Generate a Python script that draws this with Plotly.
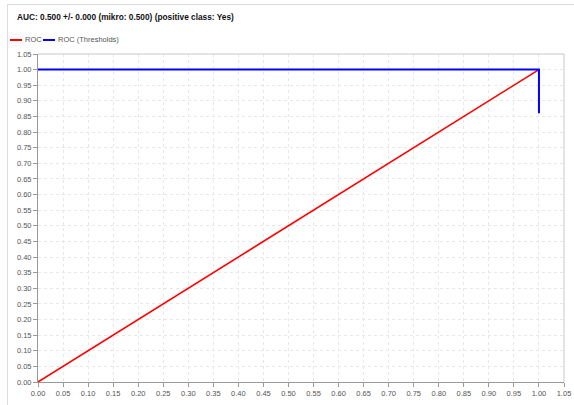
import plotly.graph_objects as go

# Data
roc_fpr = [0.0, 1.0]
roc_tpr = [0.0, 1.0]
thr_fpr = [0.0, 1.0, 1.0]
thr_tpr = [1.0, 1.0, 0.86]
title_text = "AUC: 0.500 +/- 0.000 (mikro: 0.500) (positive class: Yes)"
series_names = ["ROC", "ROC (Thresholds)"]
series_colors = ["#ff0000", "#0000ff"]

W, H = 574, 405
L, R, T, B = 38, 10, 54, 23
pw, ph = W - L - R, H - T - B

def px(x):
    return (x - L) / pw

def py(y):
    return (H - B - y) / ph

fig = go.Figure()
fig.add_trace(go.Scatter(x=roc_fpr, y=roc_tpr, mode="lines", name=series_names[0],
                         line=dict(color=series_colors[0], width=1.6), showlegend=False))
fig.add_trace(go.Scatter(x=thr_fpr, y=thr_tpr, mode="lines", name=series_names[1],
                         line=dict(color=series_colors[1], width=2), showlegend=False))

tickvals = [round(i * 0.05, 2) for i in range(22)]
ticktext = [f"{v:.2f}" for v in tickvals]

axis_common = dict(
    range=[0, 1.05], tickvals=tickvals, ticktext=ticktext,
    showgrid=True, gridcolor="#e8e8e8", griddash="dot", gridwidth=1,
    showline=True, linecolor="#999999", linewidth=1,
    ticks="outside", ticklen=4, tickcolor="#999999",
    tickfont=dict(family="Liberation Sans, Arial", size=7.5, color="#555555"),
    zeroline=False, fixedrange=True, automargin=False,
)

fig.update_layout(
    width=W, height=H,
    margin=dict(l=L, r=R, t=T, b=B, pad=0),
    paper_bgcolor="white", plot_bgcolor="white",
    xaxis=dict(**axis_common),
    yaxis=dict(**axis_common),
    showlegend=False,
)

shapes = []
# outer panel border
shapes.append(dict(type="line", xref="paper", yref="paper", x0=px(7), y0=py(4.5), x1=px(574), y1=py(4.5),
                   line=dict(color="#dddddd", width=1)))
shapes.append(dict(type="line", xref="paper", yref="paper", x0=px(7.5), y0=py(4.5), x1=px(7.5), y1=py(405),
                   line=dict(color="#dddddd", width=1)))
# top/right frame of plot area
shapes.append(dict(type="line", xref="paper", yref="paper", x0=0, y0=1, x1=1, y1=1,
                   line=dict(color="#c8c8c8", width=1)))
shapes.append(dict(type="line", xref="paper", yref="paper", x0=1, y0=0, x1=1, y1=1,
                   line=dict(color="#c8c8c8", width=1)))
# legend samples
leg_items = [(10, 22, 23), (43, 55, 56)]
annotations = [dict(text=f"<b>{title_text}</b>", xref="paper", yref="paper", x=px(15), y=py(17),
                    xanchor="left", yanchor="middle", showarrow=False,
                    font=dict(family="Liberation Sans, Arial", size=8.3, color="#111111"))]
for (x0, x1, tx), name, col in zip(leg_items, series_names, series_colors):
    shapes.append(dict(type="line", xref="paper", yref="paper", x0=px(x0), y0=py(40), x1=px(x1), y1=py(40),
                       line=dict(color=col, width=2)))
    annotations.append(dict(text=name, xref="paper", yref="paper", x=px(tx), y=py(40),
                            xanchor="left", yanchor="middle", showarrow=False,
                            font=dict(family="Liberation Sans, Arial", size=7.5, color="#555555")))
fig.update_layout(shapes=shapes, annotations=annotations)

fig.write_html("out.html", config={"displayModeBar": False},
               post_script="document.body.style.margin='0px';document.body.style.overflow='hidden';")
